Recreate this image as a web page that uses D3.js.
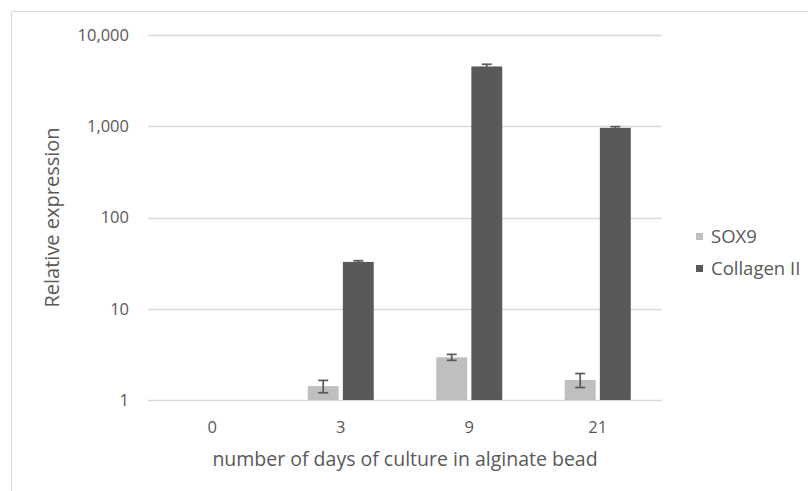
<!DOCTYPE html>
<html>
<head>
<meta charset="utf-8">
<script src="https://cdn.jsdelivr.net/npm/d3@7"></script>
<style>
  body { margin: 0; background: #fff; }
  text { font-family: "Open Sans", sans-serif; fill: #595959; }
</style>
</head>
<body>
<svg id="chart" width="808" height="491"></svg>
<script>
// data
const days = ["0", "3", "9", "21"];
const seriesNames = ["SOX9", "Collagen II"];
const sox9 = [1, 1.42, 2.94, 1.66];
const sox9Err = [0, 0.22, 0.22, 0.29];
const collagen = [1, 32.6, 4520, 960];
const collagenErr = [0, 1.0, 260, 30];
const yTicks = [1, 10, 100, 1000, 10000];

const colors = ["#bfbfbf", "#595959"],
      gridColor = "#d9d9d9",
      width = 808, height = 491,
      margin = { top: 35, right: 146, bottom: 91, left: 148 };

const svg = d3.select("#chart");

// outer chart frame (only top/left visible in the crop)
svg.append("path")
    .attr("d", "M11.5,491 V11.5 H808")
    .attr("fill", "none")
    .attr("stroke", gridColor)
    .attr("stroke-width", 1);

const x = d3.scaleBand()
    .domain(days)
    .range([margin.left, width - margin.right]);

const inner = d3.scaleBand()
    .domain(seriesNames)
    .range([x.bandwidth() / 2 - 33, x.bandwidth() / 2 + 33])
    .paddingInner(0.12);

const y = d3.scaleLog()
    .domain([1, 10000])
    .range([height - margin.bottom, margin.top]);

// gridlines
svg.append("g")
  .selectAll("line")
  .data(yTicks)
  .join("line")
    .attr("x1", margin.left)
    .attr("x2", width - margin.right)
    .attr("y1", d => Math.round(y(d)) + 0.5)
    .attr("y2", d => Math.round(y(d)) + 0.5)
    .attr("stroke", gridColor)
    .attr("stroke-width", 1.3);

// y labels
svg.append("g")
  .selectAll("text")
  .data(yTicks)
  .join("text")
    .attr("x", 129)
    .attr("y", d => y(d))
    .attr("dy", "0.35em")
    .attr("text-anchor", "end")
    .style("font-size", "16.5px")
    .text(d => d3.format(",")(d));

// x labels
svg.append("g")
  .selectAll("text")
  .data(days)
  .join("text")
    .attr("x", d => x(d) + x.bandwidth() / 2)
    .attr("y", 427)
    .attr("dy", "0.35em")
    .attr("text-anchor", "middle")
    .style("font-size", "16.5px")
    .text(d => d);

const series = [
  { name: seriesNames[0], values: sox9, err: sox9Err, color: colors[0] },
  { name: seriesNames[1], values: collagen, err: collagenErr, color: colors[1] }
];

series.forEach(s => {
  const g = svg.append("g");
  const rows = days.map((d, i) => ({ day: d, v: s.values[i], e: s.err[i] }));

  g.selectAll("rect")
    .data(rows)
    .join("rect")
      .attr("x", d => x(d.day) + inner(s.name))
      .attr("width", inner.bandwidth())
      .attr("y", d => y(d.v))
      .attr("height", d => y(1) - y(d.v))
      .attr("fill", s.color);

  const eb = rows.filter(d => d.e > 0);
  const cx = d => x(d.day) + inner(s.name) + inner.bandwidth() / 2;

  g.selectAll("line.v")
    .data(eb)
    .join("line")
      .attr("class", "v")
      .attr("x1", cx).attr("x2", cx)
      .attr("y1", d => y(d.v + d.e))
      .attr("y2", d => y(Math.max(d.v - d.e, 1)))
      .attr("stroke", "#595959")
      .attr("stroke-width", 1.7);

  [1, -1].forEach(sign => {
    g.selectAll("line.cap" + sign)
      .data(eb)
      .join("line")
        .attr("x1", d => cx(d) - 5).attr("x2", d => cx(d) + 5)
        .attr("y1", d => y(Math.max(d.v + sign * d.e, 1)))
        .attr("y2", d => y(Math.max(d.v + sign * d.e, 1)))
        .attr("stroke", "#595959")
        .attr("stroke-width", 1.7);
  });
});

// axis titles
svg.append("text")
    .attr("transform", "translate(52," + (margin.top + (height - margin.bottom - margin.top) / 2) + ") rotate(-90)")
    .attr("text-anchor", "middle")
    .attr("dy", "0.35em")
    .style("font-size", "20px")
    .text("Relative expression");

svg.append("text")
    .attr("x", (margin.left + width - margin.right) / 2)
    .attr("y", 459)
    .attr("dy", "0.35em")
    .attr("text-anchor", "middle")
    .style("font-size", "19.5px")
    .text("number of days of culture in alginate bead");

// legend
const legend = svg.append("g")
  .selectAll("g")
  .data(series)
  .join("g")
    .attr("transform", (d, i) => "translate(696," + (233 + i * 32) + ")");

legend.append("rect")
    .attr("width", 7)
    .attr("height", 7)
    .attr("fill", d => d.color);

legend.append("text")
    .attr("x", 15)
    .attr("y", 4)
    .attr("dy", "0.35em")
    .style("font-size", "18.5px")
    .text(d => d.name);
</script>
</body>
</html>
